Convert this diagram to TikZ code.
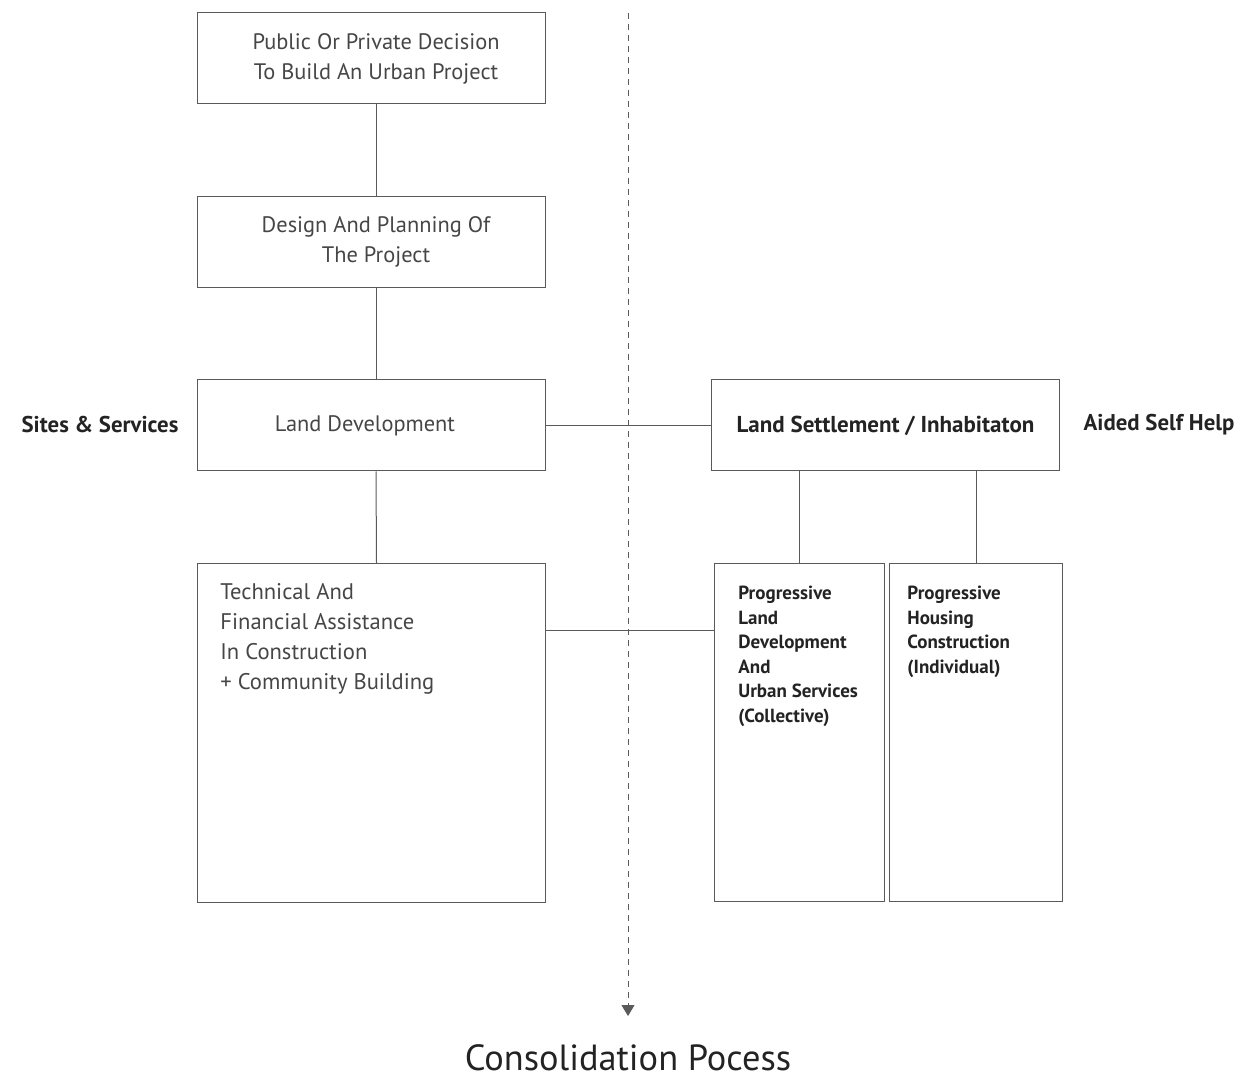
\documentclass[tikz,border=0pt]{standalone}
\usepackage{fontspec}
\setmainfont{PT Sans}
\usepackage{tikz}
\usetikzlibrary{arrows.meta}
\definecolor{boxgray}{RGB}{90,90,90}
\definecolor{textgray}{RGB}{70,70,70}
\definecolor{darkink}{RGB}{35,35,35}

\begin{document}
\begin{tikzpicture}[x=0.5pt, y=-0.5pt,
    stagebox/.style={draw=boxgray, line width=0.5pt, minimum width=174pt, minimum height=45.5pt, inner sep=0pt, align=center, text=textgray, font=\fontsize{11.2}{15}\selectfont},
    tallbox/.style={draw=boxgray, line width=0.5pt, inner sep=0pt, anchor=north west},
    link/.style={draw=boxgray, line width=0.5pt},
    sidelabel/.style={font=\bfseries\fontsize{11.4}{13}\selectfont, text=darkink}]
    \useasboundingbox (0,0) rectangle (1241,1079);

    \draw[boxgray, line width=0.5pt, dash pattern=on 3pt off 2.5pt, -{Triangle[width=6.5pt,length=5.5pt]}] (628,13) -- (628,1016);
    \node[font=\fontsize{18.2}{20}\selectfont, text=darkink] (consol) at (628,1058) {Consolidation Pocess};

    \node[stagebox] (decision) at (371,58.5) {\hspace*{5pt}Public Or Private Decision\\\hspace*{5pt}To Build An Urban Project};
    \node[stagebox] (design) at (371,242) {\hspace*{5pt}Design And Planning Of\\\hspace*{5pt}The Project};
    \node[stagebox] (landdev) at (371,425.5) {\hspace*{-6pt}Land Development};
    \node[tallbox, minimum width=174pt, minimum height=169.5pt] (assist) at (197,563) {};
    \node[anchor=north west, align=left, text=textgray, font=\fontsize{11.3}{15}\selectfont, inner sep=0pt] (assisttext) at (220,583) {Technical And\\Financial Assistance\\In Construction\\+ Community Building};

    \node[stagebox, font=\bfseries\fontsize{11.5}{13}\selectfont, text=darkink] (settle) at (885.5,425.5) {Land Settlement / Inhabitaton};
    \node[tallbox, minimum width=85pt, minimum height=169pt] (collective) at (714,563) {};
    \node[tallbox, minimum width=86.5pt, minimum height=169pt] (individual) at (889,563) {};
    \node[anchor=north west, align=left, text=darkink, font=\bfseries\fontsize{9.5}{12.25}\selectfont, inner sep=0pt] (colltext) at (738,586) {Progressive\\Land\\Development\\And\\Urban Services\\(Collective)};
    \node[anchor=north west, align=left, text=darkink, font=\bfseries\fontsize{9.5}{12.25}\selectfont, inner sep=0pt] (indtext) at (907,586) {Progressive\\Housing\\Construction\\(Individual)};

    \node[sidelabel] (sites) at (100,425) {Sites \& Services};
    \node[sidelabel] (aided) at (1159,425) {Aided Self Help};

    \draw[link] ([xshift=2.5pt]decision.south) -- ([xshift=2.5pt]design.north);
    \draw[link] ([xshift=2.5pt]design.south) -- ([xshift=2.5pt]landdev.north);
    \draw[link] ([xshift=2.5pt]landdev.south) -- ([xshift=2.5pt]assist.north);
    \draw[link] (landdev.east) -- (settle.west);
    \draw[link] ([yshift=-33.5pt]assist.north east) -- ([yshift=-33.5pt]collective.north west);
    \draw[link] (settle.south -| collective.north) -- (collective.north);
    \draw[link] (settle.south -| individual.north) -- (individual.north);
\end{tikzpicture}
\end{document}
